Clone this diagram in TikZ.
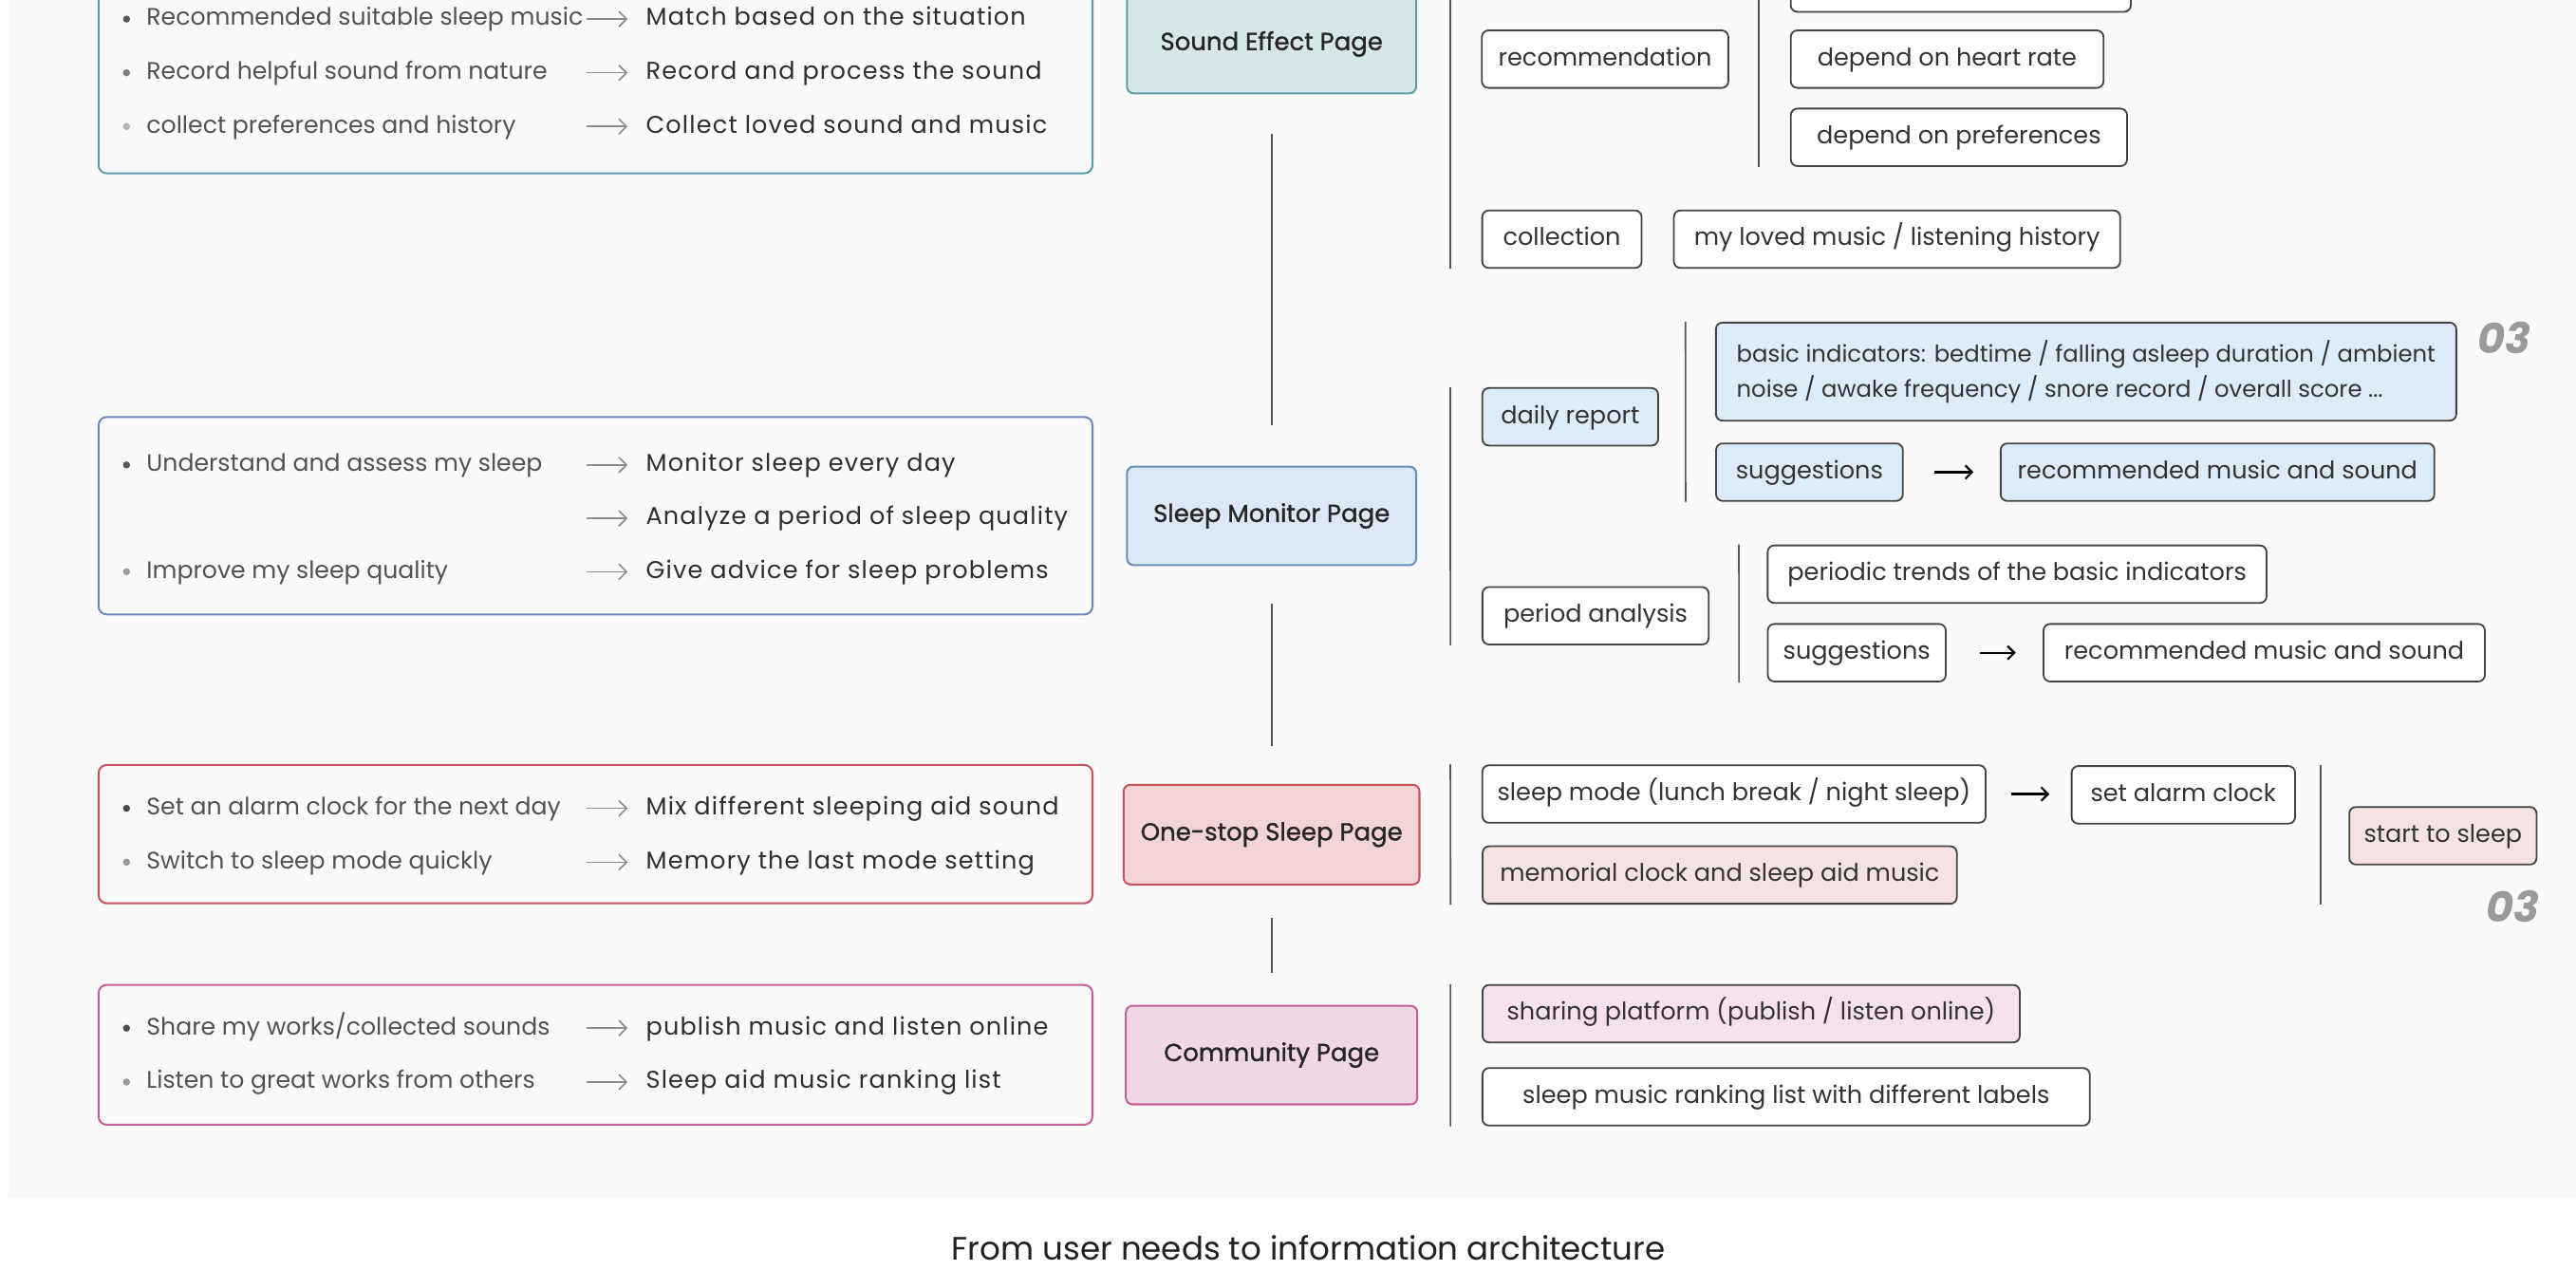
\documentclass[tikz,border=0pt]{standalone}
\usepackage{fontspec}
\setmainfont{Poppins}
\newfontfamily\headfont[FakeBold=1.2]{Poppins}
\newfontfamily\featfamily[LetterSpace=4.5]{Poppins}
\usepackage{tikz}
\usetikzlibrary{arrows.meta,calc,positioning}
\definecolor{panelgray}{HTML}{FAFAFA}
\definecolor{soundteal}{HTML}{5E9EA6}
\definecolor{monitorblue}{HTML}{6A8CB8}
\definecolor{monitorfill}{HTML}{DCE8F5}
\definecolor{sleepred}{HTML}{C9525E}
\definecolor{communitypink}{HTML}{C4609C}
\definecolor{leafblue}{HTML}{DDEBFA}
\definecolor{leafrose}{HTML}{F5E3E4}
\definecolor{leafpink}{HTML}{F8E1EE}
\definecolor{inkgray}{HTML}{444444}
\definecolor{linegray}{HTML}{555555}
\definecolor{arrowgray}{HTML}{8C8C8C}
\definecolor{labelgray}{HTML}{9A9A9A}
\newcommand\rowfont{\fontsize{12.4}{15}\selectfont}
\newcommand\featfont{\featfamily\fontsize{12.6}{15}\selectfont}
\newcommand\leaffont{\fontsize{12.6}{18}\selectfont}

\begin{document}
\begin{tikzpicture}[
    x=0.3mm, y=-0.3mm,
    needbox/.style={draw=#1, line width=1pt, rounded corners=1.5mm},
    dot/.style={circle, fill=#1, inner sep=0pt, minimum size=1.3mm},
    need/.style={anchor=west, inner sep=0pt, font=\rowfont, text=black!68,
                 text height=9.5pt, text depth=2.7pt},
    feat/.style={need, font=\featfont, text=black!82},
    hint/.style={draw=arrowgray, line width=0.8pt, -{Straight Barb[length=4pt,width=8pt]}},
    page/.style={draw=#1, fill=#1!25, line width=1pt, rounded corners=1.2mm,
                 minimum height=18mm, font=\headfont\fontsize{12.8}{15}\selectfont, text=black!85},
    leafbox/.style={draw=inkgray, line width=0.9pt, fill=white, rounded corners=1.2mm,
                    font=\leaffont, text=black!80},
    leaf/.style={leafbox, minimum height=10.5mm, text height=9.5pt, text depth=2.7pt},
    bar/.style={draw=linegray, line width=0.8pt},
    link/.style={draw=linegray, line width=0.9pt},
    flow/.style={draw=black, line width=1.1pt, -{Straight Barb[length=3.5pt,width=7pt]}},
    tag/.style={font=\bfseries\itshape\fontsize{22}{22}\selectfont, text=labelgray}
]
\useasboundingbox (0,0) rectangle (1568,773);
\clip (0,0) rectangle (1568,773);
\fill[white] (0,0) rectangle (1568,773);
\fill[panelgray] (5,-5) rectangle (1575,729);

% user needs -> functions
\draw[needbox=soundteal] (60,-18) rectangle (665,105.5);
\node[dot=black!65] (d1a) at (77,11.6) {};
\node[need] (n1a) at (89,11.6) {Recommended suitable sleep music};
\node[feat] (f1a) at (393,11.6) {Match based on the situation};
\node[dot=black!50] (d1b) at (77,44.3) {};
\node[need] (n1b) at (89,44.3) {Record helpful sound from nature};
\node[feat] (f1b) at (393,44.3) {Record and process the sound};
\node[dot=black!30] (d1c) at (77,77) {};
\node[need] (n1c) at (89,77) {collect preferences and history};
\node[feat] (f1c) at (393,77) {Collect loved sound and music};

\draw[needbox=monitorblue] (60,253.8) rectangle (665,374);
\node[dot=black!65] (d2a) at (77,283) {};
\node[need] (n2a) at (89,283) {Understand and assess my sleep};
\node[feat] (f2a) at (393,283) {Monitor sleep every day};
\node[feat] (f2b) at (393,315.5) {Analyze a period of sleep quality};
\node[dot=black!40] (d2c) at (77,348) {};
\node[need] (n2c) at (89,348) {Improve my sleep quality};
\node[feat] (f2c) at (393,348) {Give advice for sleep problems};

\draw[needbox=sleepred] (60,465.6) rectangle (665,549.8);
\node[dot=black!70] (d3a) at (77,492) {};
\node[need] (n3a) at (89,492) {Set an alarm clock for the next day};
\node[feat] (f3a) at (393,492) {Mix different sleeping aid sound};
\node[dot=black!40] (d3b) at (77,524.8) {};
\node[need] (n3b) at (89,524.8) {Switch to sleep mode quickly};
\node[feat] (f3b) at (393,524.8) {Memory the last mode setting};

\draw[needbox=communitypink] (60,599.5) rectangle (665,684.6);
\node[dot=black!70] (d4a) at (77,625.8) {};
\node[need] (n4a) at (89,625.8) {Share my works/collected sounds};
\node[feat] (f4a) at (393,625.8) {publish music and listen online};
\node[dot=black!40] (d4b) at (77,658.6) {};
\node[need] (n4b) at (89,658.6) {Listen to great works from others};
\node[feat] (f4b) at (393,658.6) {Sleep aid music ranking list};

\draw[hint] ($(f1a.west)+(-36,0)$) -- ($(f1a.west)+(-11,0)$);
\draw[hint] ($(f1b.west)+(-36,0)$) -- ($(f1b.west)+(-11,0)$);
\draw[hint] ($(f1c.west)+(-36,0)$) -- ($(f1c.west)+(-11,0)$);
\draw[hint] ($(f2a.west)+(-36,0)$) -- ($(f2a.west)+(-11,0)$);
\draw[hint] ($(f2b.west)+(-36,0)$) -- ($(f2b.west)+(-11,0)$);
\draw[hint] ($(f2c.west)+(-36,0)$) -- ($(f2c.west)+(-11,0)$);
\draw[hint] ($(f3a.west)+(-36,0)$) -- ($(f3a.west)+(-11,0)$);
\draw[hint] ($(f3b.west)+(-36,0)$) -- ($(f3b.west)+(-11,0)$);
\draw[hint] ($(f4a.west)+(-36,0)$) -- ($(f4a.west)+(-11,0)$);
\draw[hint] ($(f4b.west)+(-36,0)$) -- ($(f4b.west)+(-11,0)$);

% pages
\node[page=soundteal, minimum width=52.8mm] (sound) at (774,26.8) {Sound Effect Page};
\node[page=monitorblue, fill=monitorfill, minimum width=52.8mm] (monitor) at (774,314) {Sleep Monitor Page};
\node[page=sleepred, minimum width=54mm, minimum height=18.2mm] (onestop) at (774,508) {One-stop Sleep Page};
\node[page=communitypink, minimum width=53.2mm] (community) at (774,642.2) {Community Page};

\draw[link, shorten <=7.3mm, shorten >=7.4mm] (sound) -- (monitor);
\draw[link, shorten <=6.9mm, shorten >=6.9mm] (monitor) -- (onestop);
\draw[link, shorten <=6mm, shorten >=5.9mm] (onestop) -- (community);

% sound effect page
\node[leaf, minimum width=62.1mm] (topcut) at (1193.5,-10.3) {};
\node[leaf, minimum width=45mm] (recom) at (977,36) {recommendation};
\node[leaf, minimum width=57.1mm] (heart) at (1185.2,36) {depend on heart rate};
\node[leaf, minimum width=61.4mm] (pref) at (1192.4,83.6) {depend on preferences};
\node[leaf, minimum width=29.1mm] (collect) at (950.7,145.6) {collection};
\node[leaf, minimum width=81.5mm] (loved) at (1154.7,145.6) {my loved music / listening history};
\draw[bar] ($(collect.south west)+(-19,0)$) -- ++(0,-185);
\draw[bar] ($(pref.south west)+(-19,0)$) -- ++(0,-125);

% sleep monitor page
\node[leaf, fill=leafblue, minimum width=32.1mm] (daily) at (955.8,253.7) {daily report};
\node[leafbox, fill=leafblue, minimum width=135.2mm, minimum height=17.9mm, align=left,
      font=\fontsize{12}{18}\selectfont] (basic) at (1269.8,226.2)
      {basic indicators: bedtime / falling asleep duration / ambient\\noise / awake frequency / snore record / overall score ...};
\node[leaf, fill=leafblue, minimum width=34.1mm] (sugg1) at (1101.4,287.4) {suggestions};
\node[leaf, fill=leafblue, minimum width=79.2mm] (rec1) at (1349.8,287.4) {recommended music and sound};
\node[leaf, minimum width=41.3mm] (period) at (971.2,374.8) {period analysis};
\node[leaf, minimum width=91.1mm] (trends) at (1227.8,349.5) {periodic trends of the basic indicators};
\node[leaf, minimum width=32.5mm] (sugg2) at (1130.2,397.3) {suggestions};
\node[leaf, minimum width=80.6mm] (rec2) at (1378.2,397.3) {recommended music and sound};
\node[tag] (tag1) at (1524.5,205.6) {03};
\draw[flow, shorten <=5.6mm, shorten >=4.8mm] (sugg1) -- (rec1);
\draw[flow, shorten <=6mm, shorten >=4.9mm] (sugg2) -- (rec2);
\draw[bar] ($(daily.north west)+(-19,0)$) -- ($(period.south west)+(-19,0)$);
\draw[bar] ($(basic.north west)+(-18,0)$) -- ($(sugg1.south west)+(-18,0)$);
\draw[bar] ($(trends.north west)+(-17,0)$) -- ($(sugg2.south west)+(-17,0)$);

% one-stop sleep page
\node[leaf, minimum width=91.9mm] (mode) at (1055.5,483.3) {sleep mode (lunch break / night sleep)};
\node[leaf, minimum width=40.8mm] (alarm) at (1329,483.8) {set alarm clock};
\node[leaf, fill=leafrose, minimum width=86.6mm] (memorial) at (1046.8,532.6) {memorial clock and sleep aid music};
\node[leaf, fill=leafrose, minimum width=34.2mm] (start) at (1487,508.7) {start to sleep};
\node[tag] (tag2) at (1529.5,551.5) {03};
\draw[flow, shorten <=4.5mm, shorten >=3.9mm] (mode) -- (mode -| alarm.west);
\draw[bar] ($(mode.north west)+(-19,0)$) -- ($(memorial.south west)+(-19,0)$);
\draw[bar] ($(start.west |- alarm.north)+(-17,0)$) -- ($(start.west |- memorial.south)+(-17,0)$);

% community page
\node[leaf, fill=leafpink, minimum width=98.1mm] (share) at (1065.9,617) {sharing platform (publish / listen online)};
\node[leaf, minimum width=110.9mm] (ranking) at (1087.2,667.6) {sleep music ranking list with different labels};
\draw[bar] ($(share.north west)+(-19,0)$) -- ($(ranking.south west)+(-19,0)$);

\node[inner sep=0pt, font=\fontsize{16.8}{20}\selectfont, text=black!87] (caption) at (796.5,759.5) {From user needs to information architecture};
\end{tikzpicture}
\end{document}
